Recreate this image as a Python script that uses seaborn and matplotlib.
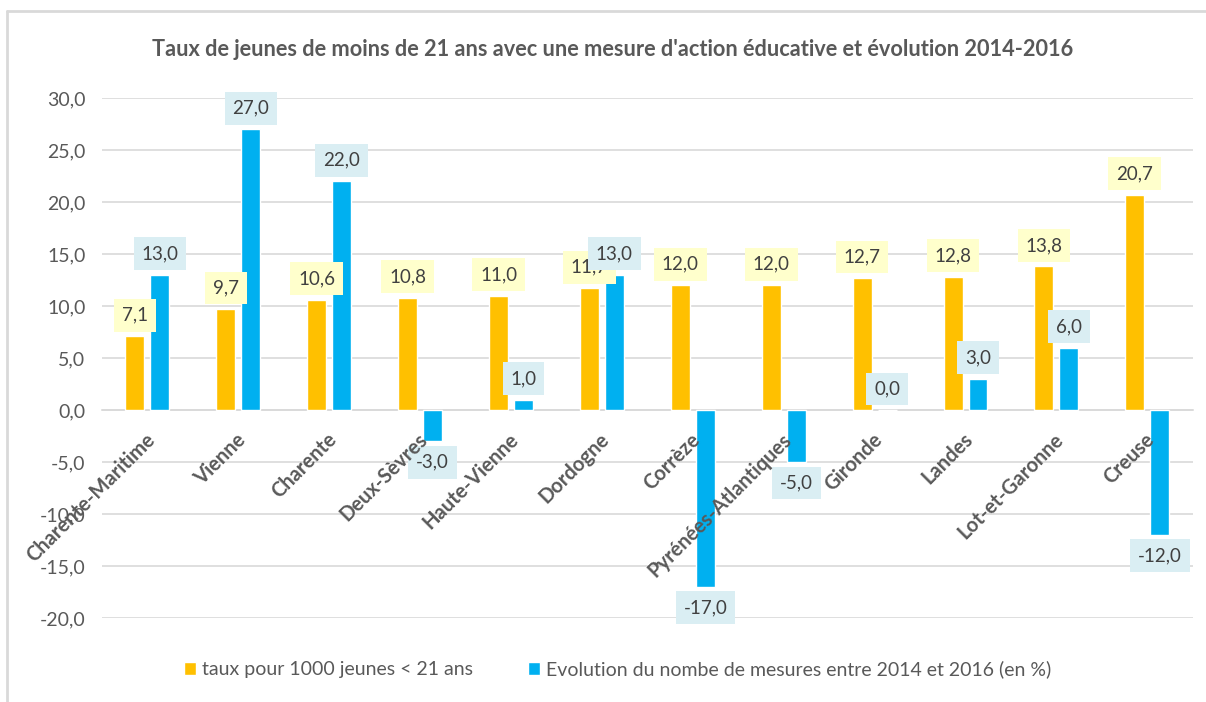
import pandas as pd
import numpy as np
import matplotlib
matplotlib.use("Agg")
import matplotlib.pyplot as plt
import matplotlib.transforms as mtransforms
from matplotlib.lines import Line2D
import seaborn as sns

# data
departements = ['Charente-Maritime', 'Vienne', 'Charente', 'Deux-Sèvres', 'Haute-Vienne',
                'Dordogne', 'Corrèze', 'Pyrénées-Atlantiques', 'Gironde', 'Landes',
                'Lot-et-Garonne', 'Creuse']
taux = [7.1, 9.7, 10.6, 10.8, 11.0, 11.7, 12.0, 12.0, 12.7, 12.8, 13.8, 20.7]
evolution = [13.0, 27.0, 22.0, -3.0, 1.0, 13.0, -17.0, -5.0, 0.0, 3.0, 6.0, -12.0]

SERIE_TAUX = 'taux pour 1000 jeunes < 21 ans'
SERIE_EVOL = 'Evolution du nombe de mesures entre 2014 et 2016 (en %)'
TITLE = "Taux de jeunes de moins de 21 ans avec une mesure d'action éducative et évolution 2014-2016"

yticks = [-20, -15, -10, -5, 0, 5, 10, 15, 20, 25, 30]

ORANGE = '#FFC000'
BLUE = '#00B0F0'
TEXT = '#595959'
GRID = '#D9D9D9'

df = pd.DataFrame({
    'departement': departements * 2,
    'serie': [SERIE_TAUX] * len(departements) + [SERIE_EVOL] * len(departements),
    'valeur': taux + evolution,
})

sns.set_style('white')
plt.rcParams['font.family'] = ['Lato', 'DejaVu Sans']

fig = plt.figure(figsize=(12.06, 7.02), dpi=100)
ax = fig.add_axes([0.0846, 0.1197, 0.9044, 0.7407])

sns.barplot(data=df, x='departement', y='valeur', hue='serie',
            palette=[ORANGE, BLUE], saturation=1, width=0.55, gap=0.24,
            errorbar=None, ax=ax, zorder=3)

# move the category axis to y=0 first (this resets the ticks)
for side in ['top', 'right', 'left']:
    ax.spines[side].set_visible(False)
ax.spines['bottom'].set_position(('data', 0))
ax.spines['bottom'].set_color(GRID)
ax.spines['bottom'].set_linewidth(1.2)
ax.spines['bottom'].set_zorder(2)

ax.set_ylim(-20, 30)
ax.set_xlim(-0.5, len(departements) - 0.5)
ax.set_yticks(yticks)
ax.set_yticklabels([f"{v:.1f}".replace('.', ',') for v in yticks])
ax.set_xlabel('')
ax.set_ylabel('')
ax.grid(axis='y', color=GRID, linewidth=1.2)
ax.set_axisbelow(True)
# category names sit on top of the bars, as in the reference
ax.xaxis.set_zorder(6)

ax.tick_params(axis='y', length=0, pad=12, labelsize=14, labelcolor=TEXT)
ax.tick_params(axis='x', length=0, pad=14, labelcolor=TEXT)
ax.set_xticks(range(len(departements)))
ax.set_xticklabels(departements, rotation=45, ha='right', va='top',
                   rotation_mode='anchor', fontweight='bold', fontsize=14.5)
offset = mtransforms.ScaledTranslation(-2 / 72, 0, fig.dpi_scale_trans)
for lab in ax.get_xticklabels():
    lab.set_transform(lab.get_transform() + offset)

# data labels in coloured boxes
box_colors = ['#FFFFCC', '#DAEEF3']
for container, bcol in zip(ax.containers, box_colors):
    for bar in container:
        h = bar.get_height()
        xc = bar.get_x() + bar.get_width() / 2
        dy, va = (-9, 'top') if h < 0 else (9, 'bottom')
        ax.annotate(f"{h:.1f}".replace('.', ','), (xc, h), xytext=(0, dy),
                    textcoords='offset points', ha='center', va=va,
                    fontsize=13.5, color='#404040', zorder=5, annotation_clip=False,
                    bbox=dict(boxstyle='square,pad=0.42', fc=bcol, ec='none'))

handles, labels = ax.get_legend_handles_labels()
ax.get_legend().remove()
fig.legend(handles, labels, loc='center', bbox_to_anchor=(0.512, 0.047), ncol=2,
           frameon=False, fontsize=14, labelcolor=TEXT, handlelength=0.65,
           handleheight=0.65, handletextpad=0.3, columnspacing=2.8)

fig.text(0.508, 0.93, TITLE, ha='center', va='center', fontsize=15.7,
         fontweight='bold', color=TEXT)

# outer chart frame (left and top edges visible in the reference)
fig.add_artist(Line2D([7 / 1206, 7 / 1206], [0, 1 - 11 / 702], transform=fig.transFigure,
                      color=GRID, linewidth=2))
fig.add_artist(Line2D([7 / 1206, 1], [1 - 11 / 702, 1 - 11 / 702], transform=fig.transFigure,
                      color=GRID, linewidth=2))

fig.savefig('out.png', dpi=100)
